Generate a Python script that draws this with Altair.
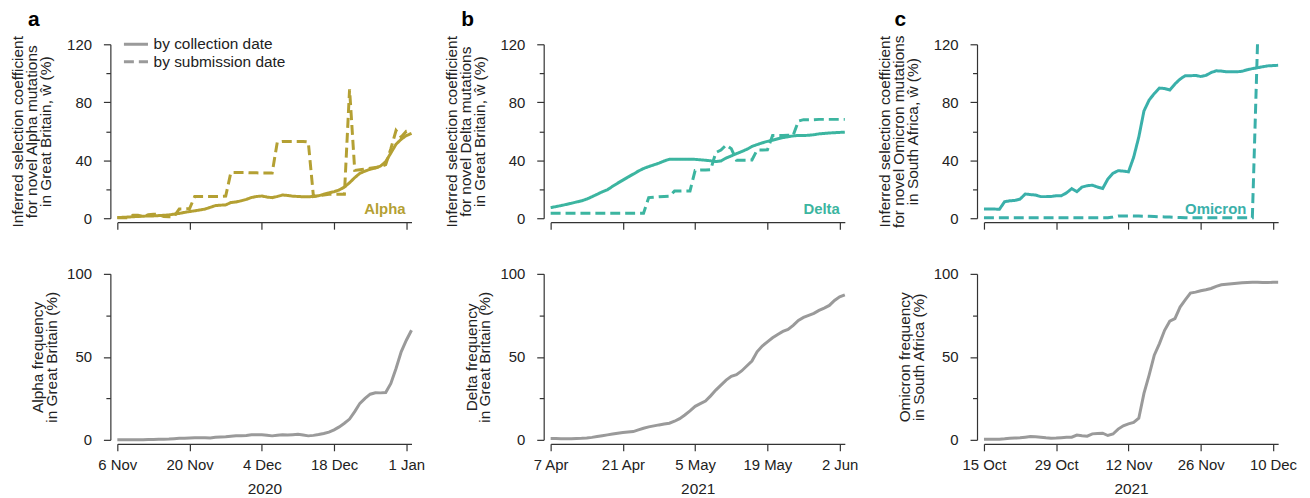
import altair as alt
import pandas as pd

FONT = "Liberation Sans"

# ---------------- data ----------------
VARIANTS = ["Alpha", "Delta", "Omicron"]
LETTERS = ["a", "b", "c"]
COLORS = ["#B4A033", "#3CB5A0", "#3AB0AA"]
GREY = "#9A9A9A"
TYPES = ["by collection date", "by submission date"]
YEARS = ["2020", "2021", "2021"]
STARTS = ["2020-11-06", "2021-04-07", "2021-10-15"]

ALPHA_TICKS = ["2020-11-06", "2020-11-20", "2020-12-04", "2020-12-18", "2021-01-01"]
DELTA_TICKS = ["2021-04-07", "2021-04-21", "2021-05-05", "2021-05-19", "2021-06-02"]
OMICRON_TICKS = ["2021-10-15", "2021-10-29", "2021-11-12", "2021-11-26", "2021-12-10"]

TOP_TITLES = [
    ["Inferred selection coefficient", "for novel Alpha mutations", "in Great Britain, ŵ (%)"],
    ["Inferred selection coefficient", "for novel Delta mutations", "in Great Britain, ŵ (%)"],
    ["Inferred selection coefficient", "for novel Omicron mutations", "in South Africa, ŵ (%)"],
]
BOTTOM_TITLES = [
    ["Alpha frequency", "in Great Britain (%)"],
    ["Delta frequency", "in Great Britain (%)"],
    ["Omicron frequency", "in South Africa (%)"],
]

TOP_Y_TICKS = [0, 20, 40, 60, 80, 100, 120]
BOTTOM_Y_TICKS = [0, 25, 50, 75, 100]

alpha_collection = [0.5, 0.6, 0.8, 1.0, 1.2, 1.4, 1.5, 1.6, 1.8, 2.0,
                    2.3, 2.8, 3.3, 4.0, 4.6, 5.1, 5.7, 6.3, 7.5, 8.7,
                    9.0, 9.2, 10.8, 11.2, 12.0, 13.0, 14.3, 15.0, 15.3, 14.6,
                    14.2, 15.0, 16.0, 15.7, 15.2, 15.0, 14.8, 14.8, 15.0, 15.5,
                    16.5, 17.5, 18.3, 19.5, 21.5, 24.5, 28.0, 31.0, 32.5, 33.8,
                    34.6, 36.0, 39.0, 45.0, 51.0, 54.5, 57.0, 58.5]
alpha_submission = [0.3, 0.3, 0.3, 2.0, 2.0, 1.0, 2.5, 2.8, 2.5, 1.2,
                    1.0, 1.2, 6.4, 6.4, 6.6, 15.0, 15.0, 15.0, 15.0, 15.0,
                    15.0, 15.2, 31.6, 31.6, 31.5, 31.5, 31.3, 31.3, 31.2, 31.2,
                    31.2, 52.6, 53.0, 53.0, 53.0, 53.0, 53.0, 52.6, 15.0, 15.5,
                    16.0, 16.5, 16.5, 16.5, 16.5, 89.0, 33.0, 33.5, 34.0, 34.5,
                    35.0, 35.5, 37.0, 48.0, 60.5, 56.0, 60.0, 60.5]
alpha_frequency = [0.1, 0.1, 0.1, 0.1, 0.1, 0.1, 0.2, 0.2, 0.3, 0.4,
                   0.5, 0.7, 0.9, 1.0, 1.1, 1.2, 1.2, 1.3, 1.1, 1.5,
                   1.7, 1.9, 2.2, 2.4, 2.5, 2.6, 3.0, 3.0, 3.0, 2.8,
                   2.4, 2.8, 3.0, 2.9, 3.1, 3.3, 2.9, 2.4, 2.7, 3.2,
                   3.8, 4.6, 6.0, 7.8, 10.0, 12.5, 17.0, 22.0, 25.0, 27.5,
                   28.4, 28.3, 28.5, 34.0, 43.0, 53.0, 60.0, 66.0]

delta_collection = [7.3, 8.0, 8.7, 9.5, 10.3, 11.2, 12.0, 13.2, 14.8, 16.5,
                    18.2, 19.6, 22.0, 24.2, 26.3, 28.4, 30.4, 32.5, 34.3, 35.6,
                    36.8, 38.0, 39.5, 40.7, 40.7, 40.7, 40.7, 40.7, 40.6, 40.3,
                    40.0, 39.6, 39.1, 39.5, 41.5, 43.0, 44.5, 46.0, 47.5, 49.5,
                    50.8, 52.0, 53.0, 53.8, 54.8, 55.6, 56.2, 56.8, 57.1, 57.1,
                    57.2, 57.6, 58.2, 58.5, 58.8, 59.0, 59.2, 59.4]
delta_submission = [3.5, 3.5, 3.5, 3.5, 3.5, 3.5, 3.5, 3.5, 3.5, 3.5,
                    3.5, 3.5, 3.5, 3.5, 3.5, 3.5, 3.5, 3.5, 3.5, 14.2,
                    14.5, 14.8, 15.0, 15.2, 18.7, 18.7, 18.8, 18.8, 33.0, 33.2,
                    33.2, 33.4, 45.3, 47.0, 50.5, 48.0, 40.0, 40.0, 40.0, 40.2,
                    47.0, 47.0, 47.2, 57.0, 57.0, 57.0, 57.2, 57.2, 67.0, 68.0,
                    68.0, 68.0, 68.2, 68.2, 68.2, 68.2, 68.2, 68.2]
delta_frequency = [0.8, 0.8, 0.7, 0.7, 0.7, 0.8, 0.9, 1.1, 1.5, 2.0,
                   2.5, 3.0, 3.5, 4.0, 4.4, 4.7, 5.0, 6.0, 7.0, 7.8,
                   8.4, 9.0, 9.5, 10.0, 11.2, 12.8, 15.0, 17.5, 20.2, 21.8,
                   23.4, 26.5, 30.0, 33.0, 36.0, 38.3, 39.3, 41.5, 44.5, 47.5,
                   53.0, 56.5, 59.0, 61.5, 63.5, 65.3, 66.5, 69.0, 72.0, 73.8,
                   75.0, 76.2, 78.0, 79.4, 81.0, 84.0, 86.2, 87.4]

omicron_collection = [6.4, 6.4, 6.3, 6.2, 11.4, 12.0, 12.3, 13.2, 16.7, 16.3,
                      16.0, 14.9, 14.9, 15.0, 15.5, 15.5, 17.5, 20.4, 18.3, 21.5,
                      22.4, 22.8, 21.5, 20.5, 27.0, 31.0, 32.8, 32.5, 32.0, 42.0,
                      56.0, 74.0, 81.5, 86.0, 89.8, 89.5, 88.5, 92.6, 96.0, 98.3,
                      98.3, 98.5, 97.8, 98.5, 100.5, 101.7, 101.5, 101.0, 101.0, 101.0,
                      101.4, 102.4, 103.2, 103.8, 104.5, 105.1, 105.3, 105.5]
omicron_submission = [0.3, 0.3, 0.3, 0.3, 0.3, 0.3, 0.3, 0.3, 0.3, 0.3,
                      0.3, 0.3, 0.3, 0.3, 0.3, 0.3, 0.3, 0.3, 0.3, 0.3,
                      0.3, 0.3, 0.3, 0.3, 0.3, 0.8, 1.5, 1.6, 1.6, 1.5,
                      1.5, 1.4, 1.3, 1.2, 1.0, 0.9, 0.8, 0.6, 0.5, 0.4,
                      0.3, 0.3, 0.3, 0.3, 0.3, 0.3, 0.3, 0.3, 0.3, 0.3,
                      0.3, 0.3, 0.3, 120.0]
omicron_frequency = [0.4, 0.4, 0.4, 0.3, 0.6, 1.0, 1.1, 1.2, 1.6, 2.0,
                     1.9, 1.6, 1.2, 1.0, 1.1, 1.3, 1.5, 1.6, 2.9, 2.5,
                     2.2, 3.6, 3.8, 4.0, 2.6, 3.5, 6.5, 8.5, 9.6, 10.5,
                     13.0, 28.0, 39.0, 51.0, 58.0, 66.0, 71.5, 73.0, 80.0, 84.3,
                     88.4, 89.0, 89.8, 90.4, 91.2, 92.5, 93.4, 93.7, 94.0, 94.3,
                     94.6, 94.8, 94.9, 94.9, 94.8, 94.8, 94.9, 94.9]

COLLECTION = [alpha_collection, delta_collection, omicron_collection]
SUBMISSION = [alpha_submission, delta_submission, omicron_submission]
FREQUENCY = [alpha_frequency, delta_frequency, omicron_frequency]
TICKS = [ALPHA_TICKS, DELTA_TICKS, OMICRON_TICKS]

# ---------------- layout constants ----------------
W = 296
H_TOP = 175
H_BOT = 167
NAME_RIGHT = [W - 6, W - 5, W - 32]
LABEL_SIZE = 15
TITLE_SIZE = 15.5


def dt(s):
    y, m, d = (int(p) for p in s.split("-"))
    return alt.DateTime(year=y, month=m, date=d, utc=True)


def dates(start, n):
    return pd.date_range(start, periods=n, freq="D").strftime("%Y-%m-%d").tolist()


def x_enc(i, bottom):
    start = STARTS[i]
    n = len(FREQUENCY[i])
    end = dates(start, n)[-1]
    axis = alt.Axis(
        values=[dt(t) for t in TICKS[i]],
        format="%-d %b",
        labels=bottom,
        labelFlush=False,
        labelOverlap=False,
        ticks=True,
        tickSize=7,
        offset=4,
        labelPadding=6.5,
        title=YEARS[i] if bottom else None,
        titlePadding=9,
        grid=False,
    )
    return alt.X("date:T", scale=alt.Scale(type="utc", domain=[dt(start), dt(end)], nice=False), axis=axis)


def y_axis(values, major, title, title_pad):
    test = f"datum.value % {major} === 0"
    return alt.Axis(
        values=values,
        labelExpr=f"{test} ? datum.label : ''",
        tickSize={"condition": {"test": test, "value": 7}, "value": 4.5},
        offset=7,
        labelPadding=12,
        labelFlush=False,
        labelOverlap=False,
        title=title,
        titlePadding=title_pad,
        titleLineHeight=14,
        grid=False,
    )


def top_panel(i):
    start = STARTS[i]
    coll = COLLECTION[i]
    sub = SUBMISSION[i]
    df = pd.concat([
        pd.DataFrame({"date": dates(start, len(coll)), "value": coll, "type": TYPES[0]}),
        pd.DataFrame({"date": dates(start, len(sub)), "value": sub, "type": TYPES[1]}),
    ])
    if i == 0:
        legend = alt.Legend(
            orient="none", legendX=11, legendY=-7.75, title=None,
            symbolType="M-2.2,0H2.2", symbolSize=121, symbolStrokeWidth=3,
            symbolStrokeColor=GREY, symbolFillColor="transparent",
            labelFontSize=15.5, labelFont=FONT,
            labelColor="#222", rowPadding=0.5, labelOffset=10, padding=0,
        )
    else:
        legend = None
    lines = alt.Chart(df).mark_line(strokeWidth=3, color=COLORS[i], interpolate="linear").encode(
        x=x_enc(i, False),
        y=alt.Y("value:Q", scale=alt.Scale(domain=[0, 120], nice=False),
                axis=y_axis(TOP_Y_TICKS, 40, TOP_TITLES[i], 13)),
        strokeDash=alt.StrokeDash("type:N", scale=alt.Scale(domain=TYPES, range=[[1, 0], [10, 5]]),
                                  legend=legend),
        detail="type:N",
    )
    name = alt.Chart(pd.DataFrame({"name": [VARIANTS[i]]})).mark_text(
        align="right", baseline="alphabetic", fontWeight="bold", fontSize=15,
        font=FONT, color=COLORS[i]
    ).encode(text="name:N", x=alt.value(NAME_RIGHT[i]), y=alt.value(H_TOP - 4))
    letter = alt.Chart(pd.DataFrame({"letter": [LETTERS[i]]})).mark_text(
        align="left", baseline="top", fontWeight="bold", fontSize=21,
        font=FONT, color="#000"
    ).encode(text="letter:N", x=alt.value(-90), y=alt.value(-35))
    return alt.layer(lines, name, letter).properties(width=W, height=H_TOP)


def bottom_panel(i):
    start = STARTS[i]
    freq = FREQUENCY[i]
    df = pd.DataFrame({"date": dates(start, len(freq)), "value": freq})
    return alt.Chart(df).mark_line(strokeWidth=3, color=GREY).encode(
        x=x_enc(i, True),
        y=alt.Y("value:Q", scale=alt.Scale(domain=[0, 100], nice=False),
                axis=y_axis(BOTTOM_Y_TICKS, 50, BOTTOM_TITLES[i], 7)),
    ).properties(width=W, height=H_BOT)


columns = [alt.vconcat(top_panel(i), bottom_panel(i), spacing=37) for i in range(3)]

chart = alt.hconcat(*columns, spacing=18).properties(
    padding={"left": 2, "top": 0, "right": 5, "bottom": 0}
).configure_axis(
    labelFont=FONT, titleFont=FONT, labelFontSize=LABEL_SIZE, titleFontSize=TITLE_SIZE,
    titleFontWeight="normal", labelColor="#222", titleColor="#222",
    domainColor="#333", tickColor="#333", domainWidth=1.2, tickWidth=1.2,
).configure_view(stroke=None)

chart.save("out.html", embed_options={"renderer": "svg", "actions": False})
